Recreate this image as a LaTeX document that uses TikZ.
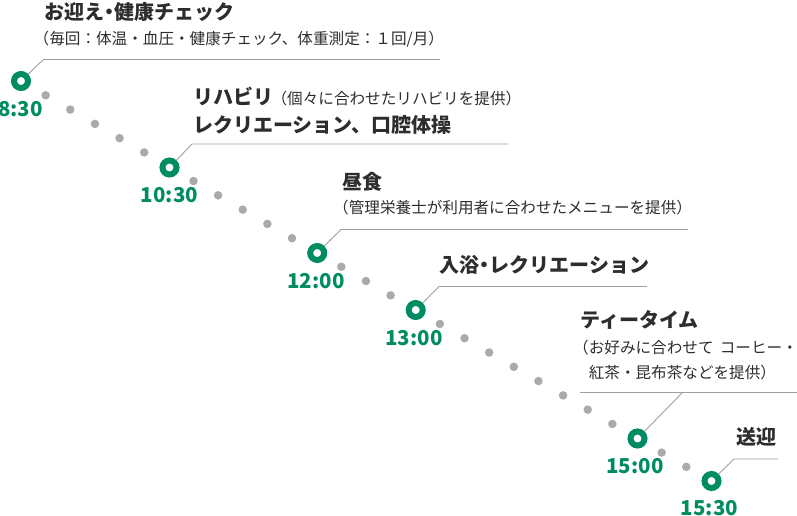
\documentclass[tikz,border=0pt]{standalone}
\usepackage{fontspec}
\setmainfont{Noto Sans CJK JP}
\definecolor{grn}{RGB}{0,140,98}
\definecolor{txt}{RGB}{45,45,45}
\definecolor{dotc}{RGB}{170,170,170}
\definecolor{lead}{RGB}{160,160,160}
\newcommand{\ndot}{\kern-.24em・\kern-.24em}
\begin{document}
\begin{tikzpicture}[x=1pt,y=-1pt,
  ring/.style={circle,draw=grn,line width=6pt,fill=white,minimum size=14pt,inner sep=0pt},
  gdot/.style={circle,fill=dotc,minimum size=8.5pt,inner sep=0pt},
  timelbl/.style={text=grn,font=\fontsize{20.5}{24}\selectfont\bfseries,inner sep=0pt,anchor=center},
  head/.style={anchor=west,inner sep=0pt,text=txt,font=\fontsize{20}{24}\selectfont\bfseries},
  sub/.style={anchor=west,inner sep=0pt,text=txt,font=\fontsize{15.6}{20}\selectfont},
  leader/.style={draw=lead,line width=0.9pt}]
\useasboundingbox (0,0) rectangle (797,516);
% grey dots
\foreach \i in {1,2,3,4,5,7,8,9,10,11,13,14,15,17,18,19,20,21,22,23,24,26,27}
  \node[gdot] (d\i) at ({21+24.64*\i},{81+14.29*\i}) {};
% leader coordinates
\coordinate (c1) at (43.5,59.5);  \coordinate (e1) at (440,59.5);
\coordinate (c2) at (192,144);    \coordinate (e2) at (508,144);
\coordinate (c3) at (341,229.5);  \coordinate (e3) at (688,229.5);
\coordinate (c4) at (439,286.5);  \coordinate (e4) at (647,286.5);
\coordinate (s5) at (580,392);    \coordinate (c5) at (683,392); \coordinate (e5) at (797,392);
\coordinate (c6) at (734,459);    \coordinate (e6) at (778,459);
% rings
\node[ring] (r1) at (21,81) {};
\node[ring] (r2) at (169.5,167.5) {};
\node[ring] (r3) at (317.2,253) {};
\node[ring] (r4) at (415.7,310) {};
\node[ring] (r5) at (637.5,438.5) {};
\node[ring] (r6) at (711.5,481) {};
% leaders
\draw[leader] (r1) -- (c1) -- (e1);
\draw[leader] (r2) -- (c2) -- (e2);
\draw[leader] (r3) -- (c3) -- (e3);
\draw[leader] (r4) -- (c4) -- (e4);
\draw[leader] (s5) -- (e5);
\draw[leader] (r5) -- (c5);
\draw[leader] (r6) -- (c6) -- (e6);
% times
\node[timelbl] (t1) at (20.5,109.5) {8:30};
\node[timelbl] (t2) at (169.5,195.5) {10:30};
\node[timelbl] (t3) at (316,281.5) {12:00};
\node[timelbl] (t4) at (414,338) {13:00};
\node[timelbl] (t5) at (635,466) {15:00};
\node[timelbl] (t6) at (709.5,508) {15:30};
% texts
\node[head] (h1) at (44,12) {お迎え\ndot 健康チェック};
\node[sub] (s1) at (33.5,39) {（毎回：体温・血圧・健康チェック、体重測定：１回/月）};
\node[head] (h2) at (193,97) {リハビリ{\fontsize{15.6}{20}\selectfont\mdseries\kern-.1em（個々に合わせたリハビリを提供）}};
\node[head] (h2b) at (193,125) {レクリエーション、口腔体操};
\node[head] (h3) at (342,182) {昼食};
\node[sub] (s3) at (333,208) {（管理栄養士が利用者に合わせたメニューを提供）};
\node[head] (h4) at (439,265) {入浴\ndot レクリエーション};
\node[head] (h5) at (580,320) {ティータイム};
\node[sub] (s5a) at (573,348) {（お好みに合わせて\hspace{0.4em}コーヒー・};
\node[sub] (s5b) at (573,373) {　紅茶・昆布茶などを提供）};
\node[head] (h6) at (736,437) {送迎};
\end{tikzpicture}
\end{document}
